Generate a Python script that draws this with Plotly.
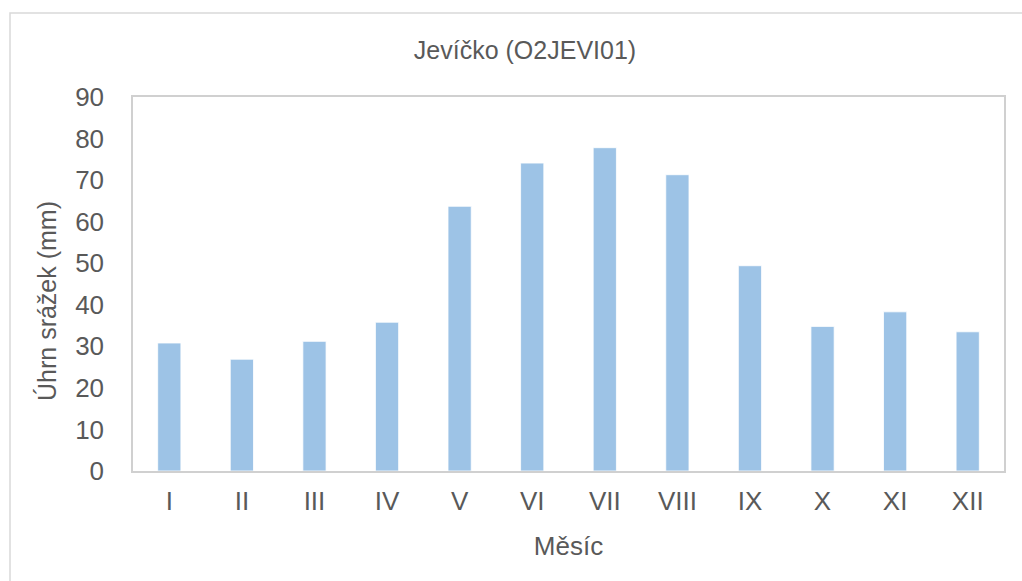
import plotly.graph_objects as go

months = ["I", "II", "III", "IV", "V", "VI", "VII", "VIII", "IX", "X", "XI", "XII"]
precip = [30.8, 26.9, 31.2, 35.8, 63.7, 74.1, 77.8, 71.3, 49.4, 34.8, 38.3, 33.5]
y_ticks = [0, 10, 20, 30, 40, 50, 60, 70, 80, 90]

L, R, T, B = 133, 18, 97, 110
W, H = 1022, 581
pw, ph = W - L - R, H - T - B

def px_to_paper_x(px):
    return (px - L) / pw

def px_to_paper_y(py):
    return 1 - (py - T) / ph

fig = go.Figure()
fig.add_trace(go.Bar(
    x=months, y=precip,
    marker=dict(color="#9dc3e6", line=dict(color="#ffffff", width=0.8)),
))

grey = "#595959"
fig.update_layout(
    width=W, height=H,
    margin=dict(l=L, r=R, t=T, b=B),
    paper_bgcolor="white", plot_bgcolor="white",
    bargap=0.68,
    showlegend=False,
    font=dict(family="Liberation Sans, Arial, sans-serif", color=grey),
    title=dict(text="Jevíčko (O2JEVI01)", x=px_to_paper_x(525), xref="paper",
               xanchor="center", y=1 - 50 / H, yanchor="middle",
               font=dict(size=25, color=grey)),
    xaxis=dict(
        showline=True, linecolor="#d0d0d0", linewidth=1.5, mirror=True,
        showgrid=False, ticks="", tickfont=dict(size=26, color=grey),
        ticklabelstandoff=6,
        title=dict(text="Měsíc", font=dict(size=26, color=grey), standoff=22),
    ),
    yaxis=dict(
        range=[0, 90], tickvals=y_ticks, showgrid=False, zeroline=False,
        showline=True, linecolor="#d0d0d0", linewidth=1.5, mirror=True,
        ticks="", tickfont=dict(size=26, color=grey), ticklabelstandoff=22,
    ),
    annotations=[dict(text="Úhrn srážek (mm)", xref="paper", yref="paper",
                      x=px_to_paper_x(47), y=px_to_paper_y(301),
                      xanchor="center", yanchor="middle", textangle=-90,
                      showarrow=False, font=dict(size=25, color=grey))],
    shapes=[dict(type="rect", xref="paper", yref="paper",
                 x0=px_to_paper_x(10), x1=px_to_paper_x(1060),
                 y0=px_to_paper_y(620), y1=px_to_paper_y(13),
                 line=dict(color="#d9d9d9", width=1.5), fillcolor="rgba(0,0,0,0)",
                 layer="below")],
)

fig.write_html("out.html")
